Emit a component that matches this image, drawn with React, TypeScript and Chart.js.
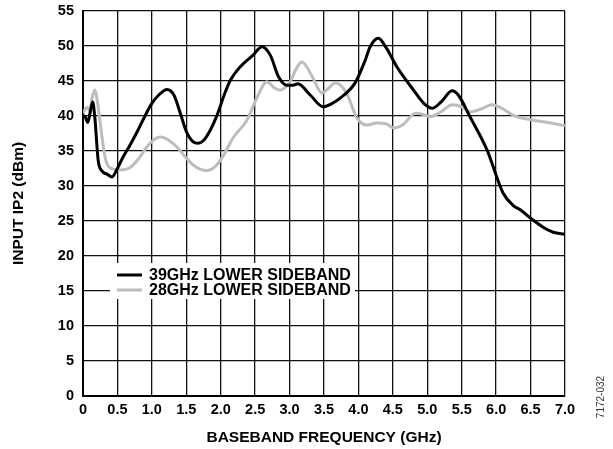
import React, { useEffect, useRef } from "react";
import { Chart, registerables } from "chart.js";

Chart.register(...registerables);

const FONT = '"Liberation Sans", Arial, Helvetica, sans-serif';

const seriesNames = ["39GHz LOWER SIDEBAND", "28GHz LOWER SIDEBAND"];
const seriesColors = ["#000000", "#bdbdbd"];

const x39 = [0, 0.03, 0.07, 0.1, 0.14, 0.17, 0.22, 0.27, 0.35, 0.42, 0.5, 0.58, 0.68, 0.8, 0.9, 1.0, 1.1, 1.22, 1.32, 1.41, 1.5, 1.6, 1.67, 1.75, 1.85, 1.95, 2.05, 2.14, 2.28, 2.47, 2.6, 2.72, 2.84, 2.96, 3.05, 3.12, 3.3, 3.49, 3.6, 3.74, 3.95, 4.1, 4.17, 4.29, 4.4, 4.56, 4.8, 4.95, 5.07, 5.2, 5.36, 5.45, 5.62, 5.87, 6.1, 6.25, 6.35, 6.54, 6.7, 6.83, 7.0];
const y39 = [40, 39.9, 39.1, 40.3, 42, 40, 33.7, 32.2, 31.7, 31.3, 32.5, 34.1, 35.8, 38, 40, 41.8, 43, 43.8, 43, 40.5, 37.8, 36.3, 36.1, 36.5, 38, 40.2, 43, 45.1, 47, 48.7, 49.9, 48.7, 45.6, 44.4, 44.4, 44.6, 43, 41.3, 41.7, 42.6, 44.7, 48, 49.9, 51.1, 49.8, 47, 43.7, 41.8, 41.1, 42, 43.6, 43, 39.9, 35.1, 29, 27.2, 26.6, 25.1, 24, 23.4, 23.1];

const x28 = [0, 0.04, 0.07, 0.1, 0.13, 0.17, 0.21, 0.25, 0.32, 0.39, 0.54, 0.68, 0.8, 0.93, 1.03, 1.12, 1.22, 1.36, 1.5, 1.6, 1.7, 1.8, 1.92, 2.03, 2.18, 2.38, 2.53, 2.67, 2.78, 2.86, 2.95, 3.01, 3.1, 3.18, 3.25, 3.33, 3.47, 3.57, 3.66, 3.75, 3.84, 3.98, 4.13, 4.27, 4.4, 4.51, 4.65, 4.83, 4.95, 5.04, 5.2, 5.36, 5.5, 5.62, 5.78, 5.94, 6.1, 6.25, 6.54, 6.8, 7.0];
const y28 = [40.4, 41.1, 41.2, 40.6, 42.5, 43.7, 42, 39, 34.1, 32.6, 32.3, 32.6, 33.8, 35.6, 36.6, 37, 36.7, 35.6, 34, 33, 32.4, 32.2, 32.8, 34.2, 36.9, 39.4, 42.7, 44.9, 44, 43.7, 44.2, 44.9, 46.8, 47.7, 47, 45.6, 43.3, 44, 44.7, 44.3, 43, 39.7, 38.7, 39, 38.9, 38.3, 38.8, 40.4, 40.2, 39.9, 40.6, 41.6, 41.3, 40.6, 41, 41.6, 41, 40.1, 39.4, 39, 38.6];

const xTitle = "BASEBAND FREQUENCY (GHz)";
const yTitle = "INPUT IP2 (dBm)";
const figureId = "7172-032";

const overlayPlugin = {
  id: "overlay",
  afterDraw(chart: any) {
    const ctx = chart.ctx;
    const area = chart.chartArea;
    ctx.save();
    // legend box
    ctx.fillStyle = "#ffffff";
    ctx.fillRect(110, 263, 245, 36);
    const rows = [275, 290];
    seriesNames.forEach((name, i) => {
      ctx.strokeStyle = seriesColors[i];
      ctx.lineWidth = 3;
      ctx.beginPath();
      ctx.moveTo(117, rows[i]);
      ctx.lineTo(142, rows[i]);
      ctx.stroke();
      ctx.fillStyle = "#000";
      ctx.font = `bold 16px ${FONT}`;
      ctx.textAlign = "left";
      ctx.textBaseline = "middle";
      ctx.fillText(name, 149, rows[i] + 1);
    });
    // x title
    ctx.fillStyle = "#000";
    ctx.font = `bold 15.5px ${FONT}`;
    ctx.textAlign = "center";
    ctx.textBaseline = "middle";
    ctx.fillText(xTitle, (area.left + area.right) / 2, 438);
    // y title
    ctx.save();
    ctx.translate(19, (area.top + area.bottom) / 2);
    ctx.rotate(-Math.PI / 2);
    ctx.fillText(yTitle, 0, 0);
    ctx.restore();
    // figure id
    ctx.save();
    ctx.translate(601, 397);
    ctx.rotate(-Math.PI / 2);
    ctx.font = `10px ${FONT}`;
    ctx.fillStyle = "#333";
    ctx.fillText(figureId, 0, 0);
    ctx.restore();
    ctx.restore();
  },
};

export default function App() {
  const ref = useRef<HTMLCanvasElement>(null);
  useEffect(() => {
    document.body.style.margin = "0";
    const toPts = (xs: number[], ys: number[]) => xs.map((x, i) => ({ x, y: ys[i] }));
    const chart = new Chart(ref.current!, {
      type: "scatter",
      data: {
        datasets: [
          {
            label: seriesNames[0],
            data: toPts(x39, y39),
            showLine: true,
            borderColor: seriesColors[0],
            borderWidth: 3,
            pointRadius: 0,
            cubicInterpolationMode: "monotone",
          },
          {
            label: seriesNames[1],
            data: toPts(x28, y28),
            showLine: true,
            borderColor: seriesColors[1],
            borderWidth: 3,
            pointRadius: 0,
            cubicInterpolationMode: "monotone",
          },
        ],
      },
      options: {
        animation: false,
        responsive: false,
        maintainAspectRatio: false,
        layout: { padding: { top: 11, right: 48, left: 0, bottom: 0 } },
        plugins: { legend: { display: false }, tooltip: { enabled: false } },
        scales: {
          x: {
            type: "linear",
            min: 0,
            max: 7,
            afterFit: (s: any) => {
              s.height = 53;
            },
            ticks: {
              stepSize: 0.5,
              color: "#000",
              padding: 5,
              maxRotation: 0,
              autoSkip: false,
              font: { family: FONT, size: 14.5, weight: "bold" },
              callback: (v: any) => (v === 0 ? "0" : Number(v).toFixed(1)),
            },
            grid: { color: "#111", lineWidth: 1.3, drawTicks: false },
            border: { color: "#000", width: 2 },
          },
          y: {
            min: 0,
            max: 55,
            afterFit: (s: any) => {
              s.width = 83;
              s.paddingTop = 0;
              s.paddingBottom = 0;
            },
            ticks: {
              stepSize: 5,
              color: "#000",
              padding: 9,
              font: { family: FONT, size: 14.5, weight: "bold" },
            },
            grid: { color: "#111", lineWidth: 1.3, drawTicks: false },
            border: { color: "#000", width: 2 },
          },
        },
      },
      plugins: [overlayPlugin],
    } as any);
    return () => chart.destroy();
  }, []);
  return (
    <div style={{ position: "absolute", left: 0, top: 0, width: 613, height: 449, background: "#fff" }}>
      <canvas ref={ref} width={613} height={449} style={{ width: 613, height: 449 }} />
    </div>
  );
}
